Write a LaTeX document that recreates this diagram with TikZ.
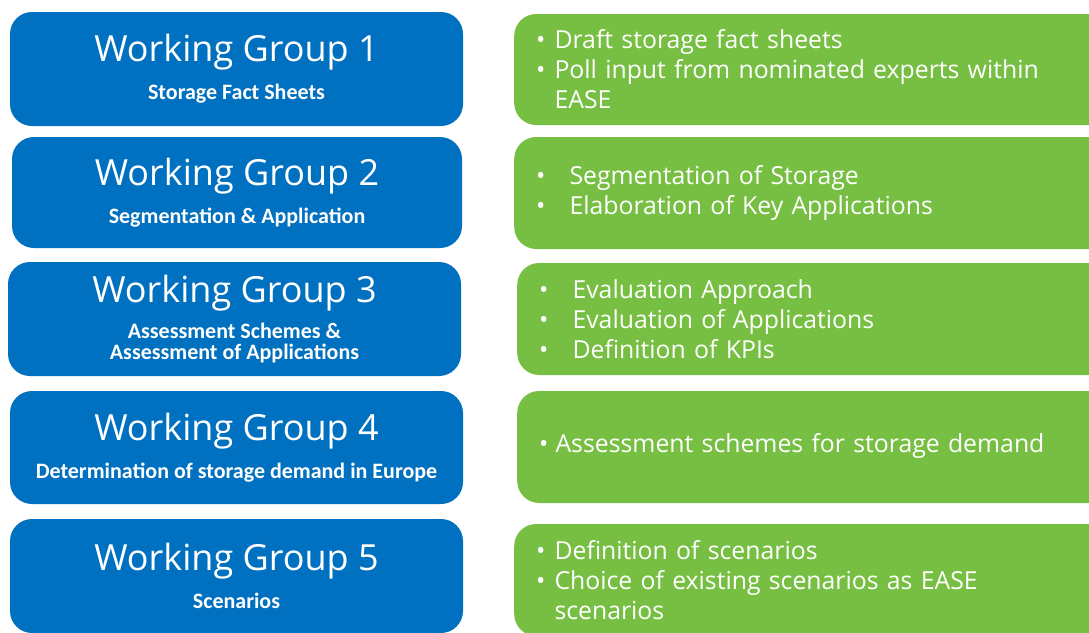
\documentclass[tikz,border=0pt]{standalone}
\usepackage{fontspec}
\setmainfont{Open Sans}
\newfontfamily\subfont{Carlito}

\definecolor{wgblue}{RGB}{0,112,192}
\definecolor{wggreen}{RGB}{119,191,67}

\newcommand{\wgtitle}[1]{{\fontsize{36}{42}\selectfont #1}}
\newcommand{\wgsub}[1]{{\subfont\bfseries\fontsize{22}{24}\selectfont #1}}
\newcommand{\bul}[1][9pt]{\textbullet\hspace{#1}}

\tikzset{
  wgbox/.style={fill=wgblue, rounded corners=22pt, minimum width=453pt, minimum height=114pt,
    inner sep=0pt, text=white, align=center},
  taskbox/.style={fill=wggreen, rounded corners=22pt, anchor=west, minimum height=112pt,
    text width=560pt, inner xsep=22pt, inner ysep=0pt, text=white, align=left,
    font=\fontsize{24.8}{30}\selectfont},
}

\begin{document}
\begin{tikzpicture}[x=1pt,y=-1pt]
\clip (0,0) rectangle (1089,632);
\fill[white] (0,0) rectangle (1089,632);

% working groups
\node[wgbox] (wg1) at (236.5,69) {\wgtitle{Working Group 1}\\[13pt]\wgsub{Storage Fact Sheets}};
\node[wgbox, minimum width=450pt, minimum height=111pt] (wg2) at (237,192.5)
  {\wgtitle{Working Group 2}\\[13pt]\wgsub{Segmentation \& Application}};
\node[wgbox] (wg3) at (234.5,319)
  {\wgtitle{Working Group 3}\\[11pt]\wgsub{Assessment Schemes \&}\\[5pt]\wgsub{Assessment of Applications}};
\node[wgbox, minimum height=113pt] (wg4) at (236.5,447.5)
  {\wgtitle{Working Group 4}\\[13pt]\wgsub{Determination of storage demand in Europe}};
\node[wgbox] (wg5) at (236.5,576) {\wgtitle{Working Group 5}\\[13pt]\wgsub{Scenarios}};

% tasks
\node[taskbox, minimum height=111pt] (task1) at (514,69.5)
  {\bul Draft storage fact sheets\\\bul Poll input from nominated experts within\\\hphantom{\bul}EASE};
\node[taskbox] (task2) at (514,193)
  {\bul[24pt]Segmentation of Storage\\\bul[24pt]Elaboration of Key Applications};
\node[taskbox] (task3) at (517,319)
  {\bul[24pt]Evaluation Approach\\\bul[24pt]Evaluation of Applications\\\bul[24pt]Definition of KPIs};
\node[taskbox] (task4) at (517,447)
  {\bul[7pt]Assessment schemes for storage demand\\[-22pt]\mbox{}};
\node[taskbox] (task5) at (514,580)
  {\bul Definition of scenarios\\\bul Choice of existing scenarios as EASE\\\hphantom{\bul}scenarios};
\end{tikzpicture}
\end{document}
